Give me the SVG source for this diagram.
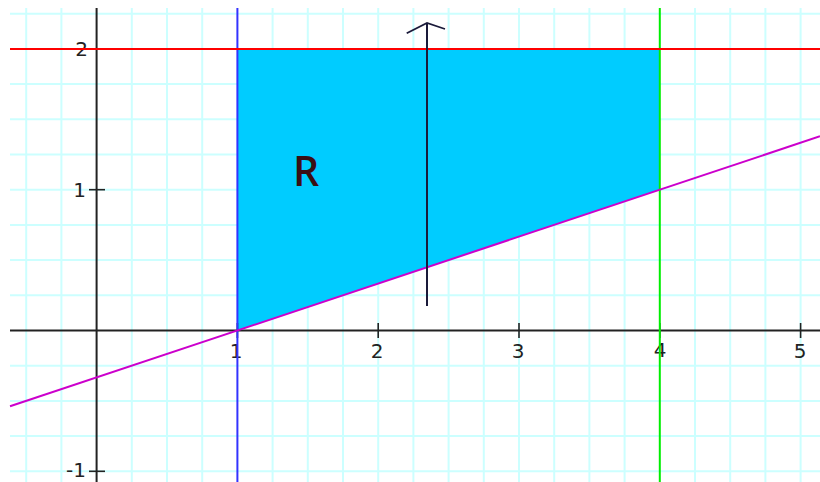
<svg xmlns="http://www.w3.org/2000/svg" width="820" height="482" viewBox="0 0 820 482">
<style>
.grid line{stroke:#ccffff;stroke-width:2}
.axis{stroke:#222;stroke-width:2;fill:none}
.tick{stroke:#222;stroke-width:1.6}
.lbl{font-family:"DejaVu Sans",sans-serif;font-size:20px;fill:#222}
</style>
<rect width="820" height="482" fill="#fff"/>
<g id="grid" class="grid">
<line x1="26.2" y1="8" x2="26.2" y2="482"/><line x1="61.4" y1="8" x2="61.4" y2="482"/><line x1="131.8" y1="8" x2="131.8" y2="482"/><line x1="167" y1="8" x2="167" y2="482"/><line x1="202.2" y1="8" x2="202.2" y2="482"/><line x1="272.6" y1="8" x2="272.6" y2="482"/><line x1="307.8" y1="8" x2="307.8" y2="482"/><line x1="343" y1="8" x2="343" y2="482"/><line x1="378.2" y1="8" x2="378.2" y2="482"/><line x1="413.4" y1="8" x2="413.4" y2="482"/><line x1="448.6" y1="8" x2="448.6" y2="482"/><line x1="483.8" y1="8" x2="483.8" y2="482"/><line x1="519" y1="8" x2="519" y2="482"/><line x1="554.2" y1="8" x2="554.2" y2="482"/><line x1="589.4" y1="8" x2="589.4" y2="482"/><line x1="624.6" y1="8" x2="624.6" y2="482"/><line x1="695" y1="8" x2="695" y2="482"/><line x1="730.2" y1="8" x2="730.2" y2="482"/><line x1="765.4" y1="8" x2="765.4" y2="482"/><line x1="800.6" y1="8" x2="800.6" y2="482"/>
<line x1="10" y1="13.7" x2="820" y2="13.7"/><line x1="10" y1="84.1" x2="820" y2="84.1"/><line x1="10" y1="119.3" x2="820" y2="119.3"/><line x1="10" y1="154.5" x2="820" y2="154.5"/><line x1="10" y1="189.7" x2="820" y2="189.7"/><line x1="10" y1="224.9" x2="820" y2="224.9"/><line x1="10" y1="260.1" x2="820" y2="260.1"/><line x1="10" y1="295.3" x2="820" y2="295.3"/><line x1="10" y1="365.7" x2="820" y2="365.7"/><line x1="10" y1="400.9" x2="820" y2="400.9"/><line x1="10" y1="436.1" x2="820" y2="436.1"/><line x1="10" y1="471.3" x2="820" y2="471.3"/>
</g>
<g id="region-R">
<polygon points="237.4,330.5 237.4,48.9 659.8,48.9 659.8,189.7" fill="#00ccff"/>
<text x="306" y="186" text-anchor="middle" font-family="'Open Sans',sans-serif" font-size="41" font-weight="600" fill="#3a0f14">R</text>
</g>
<g id="axes">
<line class="axis" x1="96.6" y1="8" x2="96.6" y2="482"/>
<line class="axis" x1="10" y1="330.5" x2="820" y2="330.5"/>
<g class="tick">
<line x1="89" y1="48.9" x2="105" y2="48.9"/><line x1="89" y1="189.7" x2="105" y2="189.7"/><line x1="89" y1="471.3" x2="105" y2="471.3"/>
<line x1="237.4" y1="323" x2="237.4" y2="338"/><line x1="378.2" y1="323" x2="378.2" y2="338"/><line x1="519" y1="323" x2="519" y2="338"/><line x1="659.8" y1="323" x2="659.8" y2="338"/><line x1="800.6" y1="323" x2="800.6" y2="338"/>
</g>
<text class="lbl" x="88" y="56" text-anchor="end">2</text>
<text class="lbl" x="86" y="197" text-anchor="end">1</text>
<text class="lbl" x="86" y="477" text-anchor="end" font-size="19">-1</text>
<text class="lbl" x="236" y="358" text-anchor="middle">1</text>
<text class="lbl" x="377" y="358" text-anchor="middle">2</text>
<text class="lbl" x="518" y="358" text-anchor="middle">3</text>
<text class="lbl" x="660" y="357" text-anchor="middle">4</text>
<text class="lbl" x="800" y="358" text-anchor="middle">5</text>
</g>
<g id="lines" fill="none" stroke-width="2">
<line id="x-eq-1" x1="237.4" y1="8" x2="237.4" y2="482" stroke="#3333ff"/>
<line id="x-eq-4" x1="659.8" y1="8" x2="659.8" y2="482" stroke="#00ee00"/>
<line id="y-eq-2" x1="10" y1="48.9" x2="820" y2="48.9" stroke="#ff0000"/>
<line id="y-eq-x-1-over-3" x1="10" y1="406.3" x2="820" y2="136.3" stroke="#cc00cc"/>
</g>
<g id="connectors" fill="none" stroke="#1a1a3a">
<line x1="427" y1="306" x2="427" y2="23" stroke-width="2"/>
<polyline points="406.7,33.3 427,23 445,29" stroke-width="1.8"/>
</g>
</svg>
